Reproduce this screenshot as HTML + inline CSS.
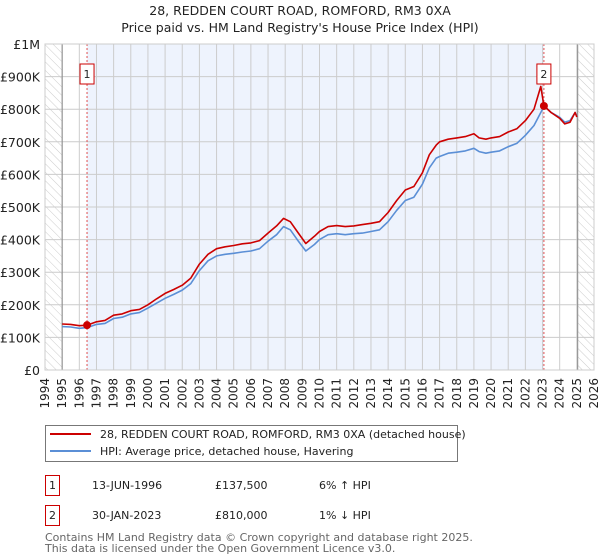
<!DOCTYPE html>
<html><head><meta charset="utf-8"><style>
body{margin:0;background:#fff;font-family:"DejaVu Sans","Liberation Sans",sans-serif;}
#wrap{position:relative;width:600px;height:560px;overflow:hidden}
svg text{font-family:"DejaVu Sans","Liberation Sans",sans-serif}
</style></head><body><div id="wrap">
<svg id="c" width="600" height="560"></svg>
</div>
<script>
const hpiYears=[1995,1995.5,1996,1996.45,1997,1997.5,1998,1998.5,1999,1999.5,2000,2000.5,2001,2001.5,2002,2002.5,2003,2003.5,2004,2004.5,2005,2005.5,2006,2006.5,2007,2007.5,2007.9,2008.3,2008.7,2009.2,2009.7,2010,2010.5,2011,2011.5,2012,2012.5,2013,2013.5,2014,2014.5,2015,2015.5,2016,2016.4,2016.8,2017,2017.5,2018,2018.5,2019,2019.3,2019.7,2020,2020.5,2021,2021.5,2022,2022.5,2022.9,2023.1,2023.5,2024,2024.3,2024.6,2024.9,2025.0];
const hpiValues=[133,132,128,130,140,143,158,162,172,176,190,205,220,232,245,265,305,335,350,355,358,362,365,372,395,415,440,430,400,365,385,400,415,418,415,418,420,425,430,455,490,520,530,570,620,650,655,665,668,672,680,670,665,668,672,685,695,720,750,790,810,790,775,760,765,790,780];
const redYears=[1995,1995.5,1996,1996.45,1997,1997.5,1998,1998.5,1999,1999.5,2000,2000.5,2001,2001.5,2002,2002.5,2003,2003.5,2004,2004.5,2005,2005.5,2006,2006.5,2007,2007.5,2007.9,2008.3,2008.7,2009.2,2009.7,2010,2010.5,2011,2011.5,2012,2012.5,2013,2013.5,2014,2014.5,2015,2015.5,2016,2016.4,2016.8,2017,2017.5,2018,2018.5,2019,2019.3,2019.7,2020,2020.5,2021,2021.5,2022,2022.5,2022.9,2023.08,2023.5,2024,2024.3,2024.6,2024.9,2025.0];
const redValues=[141,140,136,137.5,148,152,168,172,182,186,200,218,235,247,260,282,325,355,372,378,382,387,390,397,420,442,465,455,425,388,410,425,440,443,440,442,446,450,455,483,520,552,563,605,660,690,700,708,712,716,725,712,708,712,716,730,740,765,800,870,810,790,772,755,760,790,776];
const yTicks=[0,100,200,300,400,500,600,700,800,900,1000];
const yTickLabels=["£0","£100K","£200K","£300K","£400K","£500K","£600K","£700K","£800K","£900K","£1M"];
const xTicks=[1994,1995,1996,1997,1998,1999,2000,2001,2002,2003,2004,2005,2006,2007,2008,2009,2010,2011,2012,2013,2014,2015,2016,2017,2018,2019,2020,2021,2022,2023,2024,2025,2026];
const saleYears=[1996.45,2023.08];
const salePrices=[137.5,810];
const saleLabels=["1","2"];
const saleDates=["13-JUN-1996","30-JAN-2023"];
const salePriceText=["£137,500","£810,000"];
const saleHpiText=["6% ↑ HPI","1% ↓ HPI"];

const L=45,R=594,T=44,B=370;
const x=y=>L+(y-1994)/(2026-1994)*(R-L);
const yv=v=>B-v/1000*(B-T);
const svg=document.getElementById('c');
const NS='http://www.w3.org/2000/svg';
function mk(tag,attrs,parent){const e=document.createElementNS(NS,tag);for(const k in attrs)e.setAttribute(k,attrs[k]);(parent||svg).appendChild(e);return e;}

const defs=mk('defs',{});
const pat=mk('pattern',{id:'hatch',width:6,height:6,patternUnits:'userSpaceOnUse',patternTransform:'rotate(-45)'},defs);
mk('line',{x1:0,y1:0,x2:0,y2:6,stroke:'#ccc','stroke-width':1},pat);

let e;
e=mk('rect',{x:x(1996.45),y:T,width:x(2023.08)-x(1996.45),height:B-T,fill:'#eef3fd'});


e=mk('rect',{x:L,y:T,width:x(1995)-L,height:B-T,fill:'url(#hatch)'});


e=mk('rect',{x:x(2025.05),y:T,width:R-x(2025.05),height:B-T,fill:'url(#hatch)'});



xTicks.forEach(t=>{
  e=mk('line',{x1:x(t),x2:x(t),y1:T,y2:B,stroke:'#ccc','stroke-width':1});
  
  
  e=mk('text',{x:0,y:0,transform:`translate(${x(t)+4},${B+8}) rotate(-90)`,'text-anchor':'end','font-size':12,fill:'#222'});
  e.textContent=t;
  
  
});
yTicks.forEach((t,i)=>{
  e=mk('line',{x1:L,x2:R,y1:yv(t),y2:yv(t),stroke:'#ccc','stroke-width':1});
  
  
  e=mk('text',{x:L-5,y:yv(t)+5,'text-anchor':'end','font-size':12.5,fill:'#222'});
  e.textContent=yTickLabels[i];
  
  
});
e=mk('line',{x1:x(1995),x2:x(1995),y1:T,y2:B,stroke:'#888','stroke-width':1});


e=mk('line',{x1:x(2025.05),x2:x(2025.05),y1:T,y2:B,stroke:'#888','stroke-width':1});



saleYears.forEach((s,i)=>{
  e=mk('line',{x1:x(s),x2:x(s),y1:T,y2:B,stroke:'#e05050','stroke-width':1,'stroke-dasharray':'2,2'});
  
  
});

function path(xs,vs){return xs.map((a,i)=>(i?'L':'M')+x(a).toFixed(1)+','+yv(vs[i]).toFixed(1)).join('');}
e=mk('path',{d:path(hpiYears,hpiValues),fill:'none',stroke:'#5b8fd6','stroke-width':1.6,'stroke-linejoin':'round'});


e=mk('path',{d:path(redYears,redValues),fill:'none',stroke:'#cc0000','stroke-width':1.6,'stroke-linejoin':'round'});



saleYears.forEach((s,i)=>{
  e=mk('circle',{cx:x(s),cy:yv(salePrices[i]),r:4,fill:'#cc0000'});
  
  
  const g=mk('g',{});
  
  
  mk('rect',{x:x(s)-7,y:64,width:14,height:20,fill:'#fff',stroke:'#cc0000','stroke-width':1},g);
  const t=mk('text',{x:x(s),y:78,'text-anchor':'middle','font-size':11,fill:'#222'},g);
  t.textContent=saleLabels[i];
});
e=mk('rect',{x:L,y:T,width:R-L,height:B-T,fill:'none',stroke:'#ccc'});



e=mk('text',{x:300,y:15,'text-anchor':'middle','font-size':12.5,fill:'#222'});
e.textContent='28, REDDEN COURT ROAD, ROMFORD, RM3 0XA';


e=mk('text',{x:300,y:32,'text-anchor':'middle','font-size':12.5,fill:'#222'});
e.textContent="Price paid vs. HM Land Registry's House Price Index (HPI)";



const lg=mk('g',{});


mk('rect',{x:45.5,y:425.5,width:412,height:36,fill:'#fff',stroke:'#777'},lg);
mk('line',{x1:50,x2:91,y1:434,y2:434,stroke:'#cc0000','stroke-width':2},lg);
mk('line',{x1:50,x2:91,y1:451,y2:451,stroke:'#5b8fd6','stroke-width':2},lg);
e=mk('text',{x:100,y:438,'font-size':11,fill:'#222'},lg);
e.textContent='28, REDDEN COURT ROAD, ROMFORD, RM3 0XA (detached house)';


e=mk('text',{x:100,y:455,'font-size':11,fill:'#222'},lg);
e.textContent='HPI: Average price, detached house, Havering';



saleYears.forEach((s,i)=>{
  const yy=475+i*30;
  const g=mk('g',{});
  
  
  mk('rect',{x:45.5,y:yy+0.5,width:14,height:20,fill:'#fff',stroke:'#cc0000'},g);
  let t=mk('text',{x:52.5,y:yy+14,'text-anchor':'middle','font-size':11,fill:'#222'},g);t.textContent=saleLabels[i];
  t=mk('text',{x:92,y:yy+14,'font-size':11,fill:'#222'},g);t.textContent=saleDates[i];
  t=mk('text',{x:215,y:yy+14,'font-size':11,fill:'#222'},g);t.textContent=salePriceText[i];
  t=mk('text',{x:319,y:yy+14,'font-size':11,fill:'#222'},g);t.textContent=saleHpiText[i];
});
e=mk('text',{x:45,y:541,'font-size':11,fill:'#666'});
e.textContent='Contains HM Land Registry data © Crown copyright and database right 2025.';


e=mk('text',{x:45,y:552,'font-size':11,fill:'#666'});
e.textContent='This data is licensed under the Open Government Licence v3.0.';


</script></body></html>
